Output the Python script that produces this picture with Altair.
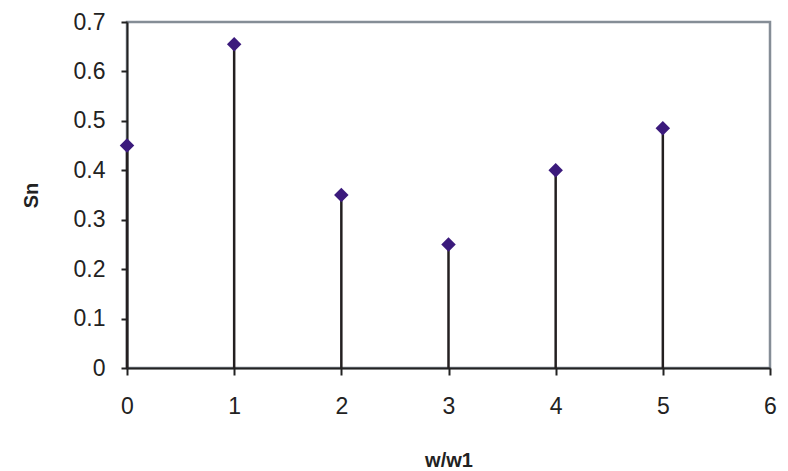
import altair as alt
import pandas as pd

x_vals = [0, 1, 2, 3, 4, 5]
sn_vals = [0.45, 0.655, 0.35, 0.25, 0.40, 0.485]
x_ticks = [0, 1, 2, 3, 4, 5, 6]
y_ticks = [0, 0.1, 0.2, 0.3, 0.4, 0.5, 0.6, 0.7]

df = pd.DataFrame({"w": x_vals, "sn": sn_vals, "base": [0] * len(x_vals)})

FONT = "Liberation Sans"

xscale = alt.Scale(domain=[0, 6], nice=False, zero=True)
yscale = alt.Scale(domain=[0, 0.7], nice=False)

xaxis = alt.Axis(
    values=x_ticks, format="d", grid=False, title="w/w1",
    labelFont=FONT, labelFontSize=23, labelColor="#222222", labelPadding=20,
    labelFlush=False,
    tickColor="#222222", tickWidth=2, tickSize=7,
    domainColor="#222222", domainWidth=2,
    titleFont=FONT, titleFontSize=20, titleFontWeight="bold", titleColor="#222222",
    titleY=92, titleBaseline="middle",
)
yaxis = alt.Axis(
    values=y_ticks, grid=False, title="Sn",
    labelFont=FONT, labelFontSize=23, labelColor="#222222", labelPadding=16,
    labelFlush=False,
    labelExpr="datum.value == 0 ? '0' : format(datum.value, '.1f')",
    tickColor="#222222", tickWidth=2, tickSize=6,
    domainColor="#222222", domainWidth=2,
    titleFont=FONT, titleFontSize=20, titleFontWeight="bold", titleColor="#222222",
    titleX=-96, titleY=173, titleAngle=-90, titleBaseline="middle", titleAlign="center",
)

stems = alt.Chart(df).mark_rule(color="#231f20", strokeWidth=2.5).encode(
    x=alt.X("w:Q", scale=xscale, axis=xaxis),
    y=alt.Y("base:Q", scale=yscale, axis=yaxis),
    y2="sn:Q",
)

points = alt.Chart(df).mark_point(
    shape="diamond", filled=True, size=210, color="#3b1a7c", opacity=1
).encode(
    x=alt.X("w:Q", scale=xscale),
    y=alt.Y("sn:Q", scale=yscale),
)

chart = (stems + points).properties(
    width=643, height=346,
    autosize=alt.AutoSizeParams(type="none"),
    padding={"left": 127, "top": 22, "right": 18, "bottom": 103},
    background="white",
).configure_view(stroke="#858d96", strokeWidth=2.5)

chart.save("out.html", embed_options={"renderer": "svg", "actions": False})
